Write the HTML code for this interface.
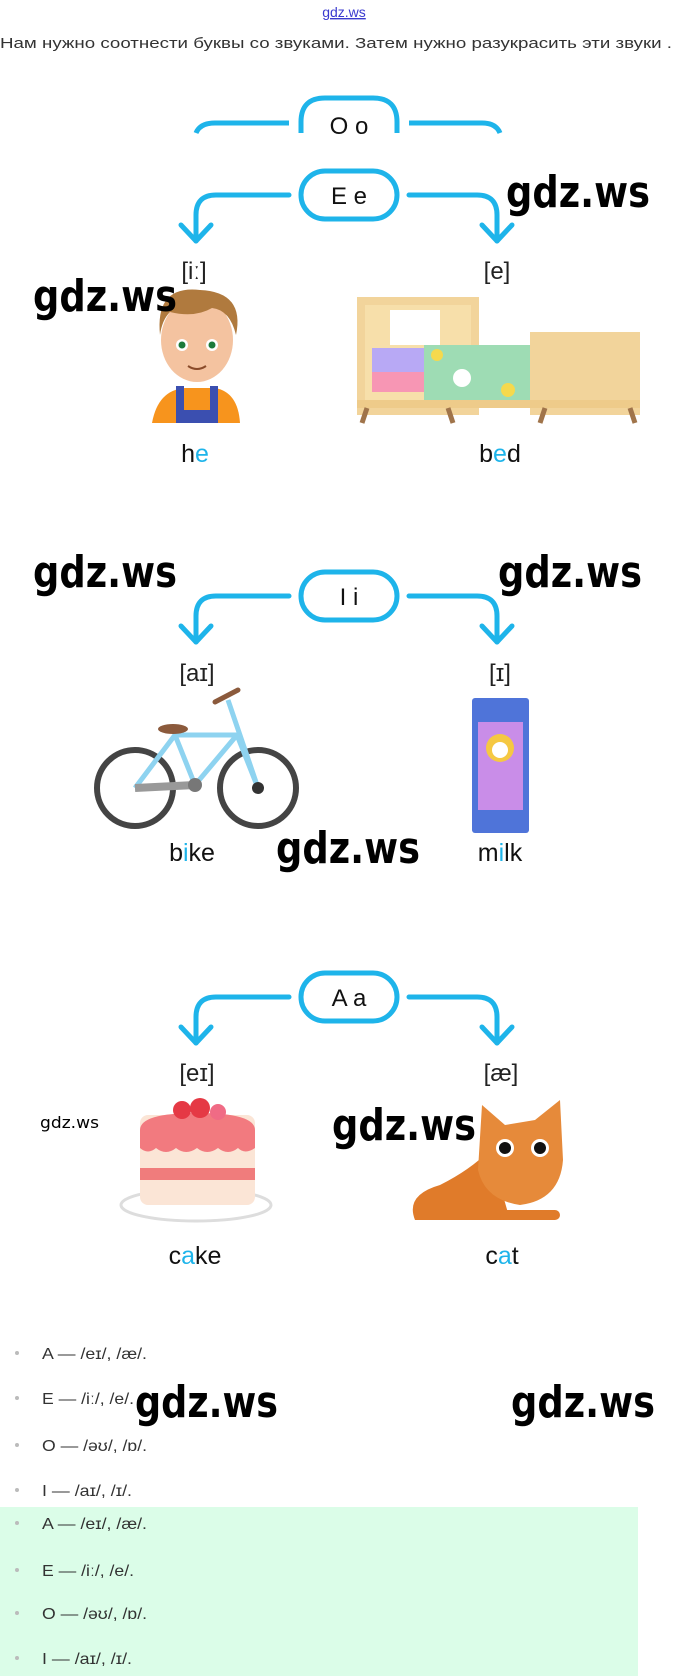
<!DOCTYPE html>
<html><head><meta charset="utf-8"><style>
html,body{margin:0;padding:0;background:#fff;}
svg{display:block}
</style></head><body>
<svg width="680" height="1676" viewBox="0 0 680 1676" xmlns="http://www.w3.org/2000/svg" font-family="Liberation Sans, DejaVu Sans, sans-serif">
<defs>
<g id="conn" fill="none" stroke="#1eb4ea" stroke-width="5" stroke-linecap="round" stroke-linejoin="round">
<rect x="301" y="-24" width="96" height="48" rx="24"/>
<path d="M289,0 H216 Q196,0 196,20 V46"/>
<path d="M181,30 L196,46 L211,30"/>
<path d="M409,0 H477 Q497,0 497,20 V46"/>
<path d="M482,30 L497,46 L512,30"/>
</g>
</defs>
<rect x="0" y="1507" width="638" height="169" fill="#dbfde8"/>
<text x="344" y="17" font-size="14" fill="#3a3acf" text-anchor="middle" text-decoration="underline">gdz.ws</text>
<text x="0" y="48" font-size="15" fill="#333" textLength="672" lengthAdjust="spacingAndGlyphs">Нам нужно соотнести буквы со звуками. Затем нужно разукрасить эти звуки .</text>

<!-- Oo -->
<g fill="none" stroke="#1eb4ea" stroke-width="5">
<path d="M301,133 V122 Q301,98 325,98 H373 Q397,98 397,122 V133"/>
<path d="M196,133 Q200,123 215,123 H289"/>
<path d="M409,123 H482 Q496,123 500,133"/>
</g>
<text x="349" y="134" font-size="24" text-anchor="middle" fill="#111">O o</text>

<!-- Ee -->
<use href="#conn" y="195"/>
<text x="349" y="204" font-size="24" text-anchor="middle" fill="#111">E e</text>
<text x="194" y="279" font-size="24" text-anchor="middle" fill="#222">[iː]</text>
<text x="497" y="279" font-size="24" text-anchor="middle" fill="#222">[e]</text>
<!-- boy -->
<path d="M152,423 Q158,390 185,388 H215 Q238,392 240,423 Z" fill="#f7941d"/>
<rect x="176" y="386" width="8" height="37" fill="#3b4fb0"/><rect x="210" y="386" width="8" height="37" fill="#3b4fb0"/>
<rect x="176" y="410" width="42" height="13" fill="#3b4fb0"/>
<ellipse cx="197" cy="340" rx="36" ry="42" fill="#f4c3a0"/>
<path d="M160,335 Q155,285 200,290 Q245,292 236,335 Q230,310 212,308 Q195,318 170,312 Q162,320 160,335Z" fill="#b07a3e"/>
<circle cx="182" cy="345" r="6" fill="#fff"/><circle cx="182" cy="345" r="3.5" fill="#1d7a3a"/>
<circle cx="212" cy="345" r="6" fill="#fff"/><circle cx="212" cy="345" r="3.5" fill="#1d7a3a"/>
<path d="M188,366 Q197,372 206,366" stroke="#8a4b2a" stroke-width="2" fill="none"/>
<!-- bed -->
<rect x="357" y="297" width="122" height="118" fill="#f2d49b"/>
<rect x="365" y="305" width="106" height="100" fill="#f7dfaa"/>
<rect x="530" y="332" width="110" height="83" fill="#f2d49b"/>
<path d="M390,310 H440 V345 H390Z" fill="#fff"/>
<rect x="372" y="348" width="52" height="24" fill="#b8a9f5"/>
<rect x="372" y="372" width="52" height="20" fill="#f796b4"/>
<rect x="424" y="345" width="106" height="55" fill="#9edcb4"/>
<circle cx="462" cy="378" r="9" fill="#fff"/><circle cx="437" cy="355" r="6" fill="#f5d94d"/><circle cx="508" cy="390" r="7" fill="#f5d94d"/>
<rect x="357" y="400" width="283" height="8" fill="#eecb8a"/>
<path d="M367,408 L362,423 M448,408 L453,423 M545,408 L540,423 M630,408 L635,423" stroke="#a0744a" stroke-width="5"/>
<text x="195" y="462" font-size="25" text-anchor="middle" fill="#111">h<tspan fill="#1eb4ea">e</tspan></text>
<text x="500" y="462" font-size="25" text-anchor="middle" fill="#111">b<tspan fill="#1eb4ea">e</tspan>d</text>

<!-- Ii -->
<use href="#conn" y="596"/>
<text x="349" y="605" font-size="24" text-anchor="middle" fill="#111">I i</text>
<text x="197" y="681" font-size="24" text-anchor="middle" fill="#222">[aɪ]</text>
<text x="500" y="681" font-size="24" text-anchor="middle" fill="#222">[ɪ]</text>
<!-- bike -->
<g fill="none">
<circle cx="135" cy="788" r="38" stroke="#444" stroke-width="6"/>
<circle cx="258" cy="788" r="38" stroke="#444" stroke-width="6"/>
<path d="M135,788 L175,735 L237,735 L258,788 M175,735 L195,785 L237,735 M195,785 L135,788 M228,700 L258,788" stroke="#8ed3f0" stroke-width="5"/>
<path d="M135,788 L195,785" stroke="#999" stroke-width="8"/>
<path d="M215,702 L238,690" stroke="#8b5a3c" stroke-width="5" stroke-linecap="round"/>
</g>
<ellipse cx="173" cy="729" rx="15" ry="5" fill="#8b5a3c"/>
<circle cx="195" cy="785" r="7" fill="#777"/><circle cx="258" cy="788" r="6" fill="#333"/>
<!-- milk -->
<rect x="472" y="698" width="57" height="135" rx="3" fill="#4f74d9"/>
<rect x="478" y="722" width="45" height="88" fill="#c98de8"/>
<circle cx="500" cy="748" r="14" fill="#f5c842"/><circle cx="500" cy="750" r="8" fill="#fff"/>
<text x="192" y="861" font-size="25" text-anchor="middle" fill="#111">b<tspan fill="#1eb4ea">i</tspan>ke</text>
<text x="500" y="861" font-size="25" text-anchor="middle" fill="#111">m<tspan fill="#1eb4ea">i</tspan>lk</text>

<!-- Aa -->
<use href="#conn" y="997"/>
<text x="349" y="1006" font-size="24" text-anchor="middle" fill="#111">A a</text>
<text x="197" y="1081" font-size="24" text-anchor="middle" fill="#222">[eɪ]</text>
<text x="501" y="1081" font-size="24" text-anchor="middle" fill="#222">[æ]</text>
<!-- cake -->
<ellipse cx="196" cy="1205" rx="75" ry="16" fill="#fff" stroke="#ddd" stroke-width="3"/>
<rect x="140" y="1115" width="115" height="90" rx="8" fill="#fbe5d6"/>
<rect x="140" y="1168" width="115" height="12" fill="#f07c7c"/>
<path d="M140,1130 Q140,1113 197,1113 Q255,1113 255,1130 V1148 Q245,1155 238,1148 Q228,1156 218,1148 Q207,1156 197,1148 Q186,1156 176,1148 Q166,1156 156,1148 Q148,1155 140,1148Z" fill="#f27a7f"/>
<circle cx="182" cy="1110" r="9" fill="#e53945"/><circle cx="200" cy="1108" r="10" fill="#e53945"/><circle cx="218" cy="1112" r="8" fill="#f06b85"/>
<!-- cat -->
<path d="M415,1220 Q405,1195 440,1185 Q470,1170 490,1150 L510,1220 Z" fill="#e07b2a"/>
<path d="M478,1170 L482,1105 L505,1125 L535,1120 L560,1100 L563,1160 Q560,1200 520,1205 Q485,1200 478,1170Z" fill="#e68a3a"/>
<rect x="500" y="1210" width="60" height="10" rx="5" fill="#e07b2a"/>
<circle cx="505" cy="1148" r="9" fill="#fff"/><circle cx="505" cy="1148" r="6" fill="#111"/>
<circle cx="540" cy="1148" r="9" fill="#fff"/><circle cx="540" cy="1148" r="6" fill="#111"/>
<text x="195" y="1264" font-size="25" text-anchor="middle" fill="#111">c<tspan fill="#1eb4ea">a</tspan>ke</text>
<text x="502" y="1264" font-size="25" text-anchor="middle" fill="#111">c<tspan fill="#1eb4ea">a</tspan>t</text>

<!-- watermarks -->
<g font-size="44" fill="#000" font-family="DejaVu Sans, sans-serif" font-weight="bold">
<text x="33" y="311" textLength="144" lengthAdjust="spacingAndGlyphs">gdz.ws</text>
<text x="506" y="207" textLength="144" lengthAdjust="spacingAndGlyphs">gdz.ws</text>
<text x="33" y="587" textLength="144" lengthAdjust="spacingAndGlyphs">gdz.ws</text>
<text x="498" y="587" textLength="144" lengthAdjust="spacingAndGlyphs">gdz.ws</text>
<text x="276" y="863" textLength="144" lengthAdjust="spacingAndGlyphs">gdz.ws</text>
<text x="332" y="1140" textLength="144" lengthAdjust="spacingAndGlyphs">gdz.ws</text>
<text x="135" y="1417" textLength="143" lengthAdjust="spacingAndGlyphs">gdz.ws</text>
<text x="511" y="1417" textLength="144" lengthAdjust="spacingAndGlyphs">gdz.ws</text>
</g>
<text x="40" y="1128" font-size="16" font-family="DejaVu Sans, sans-serif" textLength="59" lengthAdjust="spacingAndGlyphs">gdz.ws</text>

<!-- list -->
<g font-size="16" fill="#333">
<g fill="#bbb"><circle cx="17" cy="1353" r="2"/><circle cx="17" cy="1398" r="2"/><circle cx="17" cy="1445" r="2"/><circle cx="17" cy="1490" r="2"/><circle cx="17" cy="1523" r="2"/><circle cx="17" cy="1570" r="2"/><circle cx="17" cy="1613" r="2"/><circle cx="17" cy="1658" r="2"/></g>
<text x="42" y="1359" textLength="105" lengthAdjust="spacingAndGlyphs">A — /eɪ/, /æ/.</text>
<text x="42" y="1404" textLength="92" lengthAdjust="spacingAndGlyphs">E — /iː/, /e/.</text>
<text x="42" y="1451" textLength="105" lengthAdjust="spacingAndGlyphs">O — /əʊ/, /ɒ/.</text>
<text x="42" y="1496" textLength="90" lengthAdjust="spacingAndGlyphs">I — /aɪ/, /ɪ/.</text>
<text x="42" y="1529" textLength="105" lengthAdjust="spacingAndGlyphs">A — /eɪ/, /æ/.</text>
<text x="42" y="1576" textLength="92" lengthAdjust="spacingAndGlyphs">E — /iː/, /e/.</text>
<text x="42" y="1619" textLength="105" lengthAdjust="spacingAndGlyphs">O — /əʊ/, /ɒ/.</text>
<text x="42" y="1664" textLength="90" lengthAdjust="spacingAndGlyphs">I — /aɪ/, /ɪ/.</text>
</g>
</svg>
</body></html>
